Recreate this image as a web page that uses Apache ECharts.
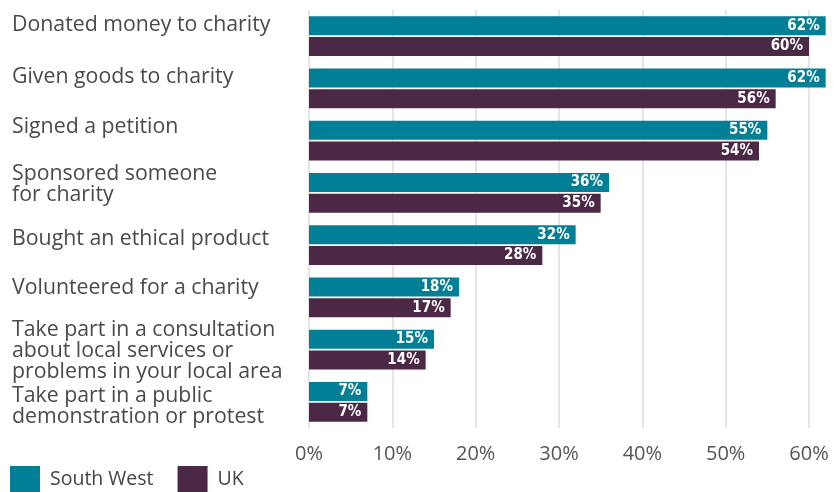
<!DOCTYPE html>
<html><head><meta charset="utf-8">
<script src="https://cdn.jsdelivr.net/npm/echarts@6/dist/echarts.min.js"></script>
<style>html,body{margin:0;padding:0;background:#fff}#c{width:834px;height:492px}</style>
</head><body><div id="c"></div>
<script>
const categories = [
  'Donated money to charity',
  'Given goods to charity',
  'Signed a petition',
  'Sponsored someone\nfor charity',
  'Bought an ethical product',
  'Volunteered for a charity',
  'Take part in a consultation\nabout local services or\nproblems in your local area',
  'Take part in a public\ndemonstration or protest'
];
const southWest = [62, 62, 55, 36, 32, 18, 15, 7];
const uk = [60, 56, 54, 35, 28, 17, 14, 7];
const tickLabels = ['0%', '10%', '20%', '30%', '40%', '50%', '60%'];
const labelShift = [-11.5, -11.5, -13.5, -8.5, -6.5, -9.5, 1, 4.5];

const rich = { t: { fontFamily: 'Open Sans', fontSize: 21.3, lineHeight: 21, color: '#4a4a4a' } };
labelShift.forEach((s, i) => { rich['p' + i] = { fontSize: 1, lineHeight: Math.max(1, 2 * Math.abs(s)) }; });

const chart = echarts.init(document.getElementById('c'));
const valLabel = {
  show: true, position: 'insideRight', distance: 6, color: '#fff',
  fontFamily: 'DejaVu Sans Condensed', fontWeight: 'bold', fontSize: 15,
  formatter: p => p.value + '%'
};
chart.setOption({
  animation: false,
  grid: { left: 309, right: 25, top: 10, height: 418, outerBoundsMode: 'none', containLabel: false },
  legend: {
    left: 10, bottom: 0, padding: 0, itemWidth: 30, itemHeight: 26, itemGap: 24,
    icon: 'rect',
    textStyle: { fontFamily: 'Open Sans', fontSize: 19.5, color: '#444', padding: [0, 0, 0, 5] },
    data: ['South West', 'UK']
  },
  xAxis: {
    type: 'value', min: 0, max: 60, interval: 10,
    axisLine: { show: false }, axisTick: { show: false },
    splitLine: { lineStyle: { color: '#dcdcdc', width: 1.5 } },
    axisLabel: {
      margin: 16, fontFamily: 'Open Sans', fontSize: 20, color: '#555',
      formatter: v => tickLabels[Math.round(v / 10)]
    }
  },
  yAxis: {
    type: 'category', inverse: true, data: categories,
    axisLine: { show: false }, axisTick: { show: false },
    axisLabel: {
      interval: 0, align: 'left', margin: 297, rich,
      formatter: (v, i) => {
        const body = v.split('\n').map(l => '{t|' + l + '}').join('\n');
        return labelShift[i] < 0 ? body + '\n{p' + i + '| }' : '{p' + i + '| }\n' + body;
      }
    }
  },
  series: [
    { name: 'South West', type: 'bar', data: southWest, barWidth: 19, barGap: '10%',
      clip: false, itemStyle: { color: '#007f96' }, label: valLabel },
    { name: 'UK', type: 'bar', data: uk, barWidth: 19, barGap: '10%',
      clip: false, itemStyle: { color: '#4a2846' }, label: valLabel }
  ]
});
</script></body></html>
